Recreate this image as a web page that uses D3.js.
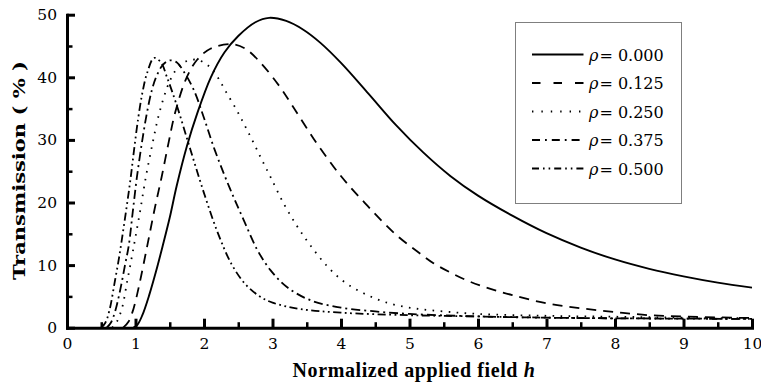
<!DOCTYPE html>
<html>
<head>
<meta charset="utf-8">
<script src="https://d3js.org/d3.v7.min.js"></script>
<style>
  body { margin: 0; background: #fff; }
  svg { display: block; }
  text { font-family: "DejaVu Serif", "Liberation Serif", serif; fill: #000; }
</style>
</head>
<body>
<figure id="chart" style="margin:0"></figure>
<script>
// normalized applied field h and transmission (%) for each rho
const rhoLabels = ["0.000", "0.125", "0.250", "0.375", "0.500"];

const h000 = [0.97, 1.03, 1.1, 1.2, 1.3, 1.4, 1.5, 1.6, 1.75, 1.9, 2.1, 2.3, 2.5, 2.75, 2.95, 3.2, 3.45, 3.7, 4.0, 4.4, 4.8, 5.2, 5.6, 6.0, 6.5, 7.0, 7.5, 8.0, 8.5, 9.0, 9.5, 10.0];
const t000 = [0, 0.5, 2.0, 5.2, 9.0, 13.2, 17.6, 22.6, 29.0, 34.2, 40.0, 44.0, 46.6, 48.8, 49.5, 49.0, 47.6, 45.5, 42.3, 37.4, 32.4, 28.0, 24.2, 21.1, 17.9, 15.1, 12.8, 10.9, 9.4, 8.2, 7.2, 6.4];

const h125 = [0.82, 0.9, 0.97, 1.05, 1.17, 1.28, 1.38, 1.48, 1.58, 1.74, 1.9, 2.1, 2.4, 2.6, 2.82, 3.1, 3.3, 3.6, 3.9, 4.1, 4.35, 4.6, 4.85, 5.1, 5.35, 5.6, 5.85, 6.1, 6.5, 7.0, 7.5, 8.0, 8.5, 9.0, 9.5, 10.0];
const t125 = [0, 1.0, 3.0, 6.6, 13.0, 19.0, 24.0, 29.4, 34.4, 39.8, 42.8, 44.6, 45.3, 44.6, 42.4, 38.6, 35.3, 30.2, 25.6, 22.9, 19.9, 17.0, 14.4, 12.3, 10.3, 8.8, 7.5, 6.5, 5.2, 3.9, 3.1, 2.5, 2.0, 1.8, 1.65, 1.55];

const h250 = [0.66, 0.72, 0.8, 0.88, 0.95, 1.0, 1.07, 1.15, 1.25, 1.35, 1.5, 1.62, 1.75, 1.9, 2.07, 2.2, 2.31, 2.48, 2.6, 2.73, 2.85, 2.97, 3.16, 3.36, 3.55, 3.8, 4.05, 4.33, 4.67, 5.06, 5.5, 6.0, 7.0, 8.0, 9.0, 10.0];
const t250 = [0, 0.8, 3.0, 7.5, 11.5, 14.5, 18.8, 24.0, 29.5, 34.4, 39.4, 41.6, 42.6, 42.8, 41.8, 40.0, 37.9, 34.7, 32.2, 29.4, 26.7, 24.1, 19.9, 16.2, 13.2, 9.8, 7.3, 5.5, 4.0, 3.1, 2.6, 2.2, 1.9, 1.75, 1.6, 1.5];

const h375 = [0.58, 0.64, 0.7, 0.78, 0.85, 0.9, 0.96, 1.02, 1.1, 1.17, 1.24, 1.3, 1.4, 1.5, 1.6, 1.7, 1.85, 2.0, 2.14, 2.29, 2.43, 2.58, 2.78, 2.97, 3.21, 3.55, 4.0, 4.5, 5.0, 6.0, 7.0, 8.0, 9.0, 10.0];
const t375 = [0, 0.8, 2.5, 6.2, 10.2, 13.0, 18.5, 24.0, 30.0, 34.5, 38.0, 40.0, 42.0, 42.7, 42.4, 41.0, 38.0, 33.5, 28.9, 24.6, 20.9, 17.2, 12.4, 9.2, 6.5, 4.4, 3.2, 2.6, 2.2, 1.8, 1.6, 1.5, 1.45, 1.4];

const h500 = [0.5, 0.56, 0.62, 0.7, 0.76, 0.82, 0.88, 0.93, 0.98, 1.04, 1.1, 1.17, 1.27, 1.37, 1.46, 1.6, 1.8, 2.0, 2.2, 2.4, 2.6, 2.8, 3.0, 3.4, 4.0, 5.0, 6.0, 7.0, 8.0, 9.0, 10.0];
const t500 = [0, 0.8, 2.8, 7.5, 11.2, 15.5, 20.0, 24.0, 28.5, 33.5, 37.5, 40.7, 43.1, 42.4, 40.0, 35.6, 28.5, 21.5, 15.2, 10.2, 7.0, 5.1, 4.0, 3.0, 2.4, 2.0, 1.8, 1.6, 1.5, 1.45, 1.4];

const xTicks = [0, 1, 2, 3, 4, 5, 6, 7, 8, 9, 10];
const yTicks = [0, 10, 20, 30, 40, 50];

const width = 761, height = 385;
const margin = { top: 14.7, right: 9, bottom: 57.3, left: 67 };

// line styles: dashes along the curves and in the legend
const series = [
  { label: rhoLabels[0], h: h000, t: t000, dash: null, legendDash: null },
  { label: rhoLabels[1], h: h125, t: t125, dash: "10,7", legendDash: "8.5,13" },
  { label: rhoLabels[2], h: h250, t: t250, dash: "1.6,6.4", legendDash: "1.4,8" },
  { label: rhoLabels[3], h: h375, t: t375, dash: "9,4,2,4", legendDash: "8,5,1.8,5" },
  { label: rhoLabels[4], h: h500, t: t500, dash: "8,3.5,1.8,3.5,1.8,3.5", legendDash: "7,4,1.6,4,1.6,4" }
];

const svg = d3.select("figure#chart")
  .append("svg")
  .attr("width", width)
  .attr("height", height);

const x = d3.scaleLinear().domain([0, 10]).range([margin.left, width - margin.right]);
const y = d3.scaleLinear().domain([0, 50]).range([height - margin.bottom, margin.top]);

// curves
const line = d3.line()
  .x(d => x(d[0]))
  .y(d => y(d[1]))
  .curve(d3.curveCatmullRom.alpha(0.5));

svg.append("g")
  .selectAll("path")
  .data(series)
  .enter()
  .append("path")
  .attr("d", s => line(s.h.map((v, i) => [v, s.t[i]])))
  .attr("fill", "none")
  .attr("stroke", "#000")
  .attr("stroke-width", s => s.dash ? 1.8 : 1.9)
  .attr("stroke-dasharray", s => s.dash);

// minor ticks
const minorX = d3.range(0.5, 10, 1);
const minorY = d3.range(5, 50, 10);

svg.append("g")
  .attr("transform", "translate(0," + y(0) + ")")
  .call(d3.axisBottom(x).tickValues(minorX).tickSize(-5.5).tickFormat(""))
  .call(g => g.select(".domain").remove())
  .call(g => g.selectAll("line").attr("stroke-width", 2.5));

svg.append("g")
  .attr("transform", "translate(" + x(0) + ",0)")
  .call(d3.axisLeft(y).tickValues(minorY).tickSize(-5.5).tickFormat(""))
  .call(g => g.select(".domain").remove())
  .call(g => g.selectAll("line").attr("stroke-width", 2.5));

// major axes
const xAxis = svg.append("g")
  .attr("transform", "translate(0," + y(0) + ")")
  .call(d3.axisBottom(x).tickValues(xTicks).tickSize(-9).tickSizeOuter(0).tickPadding(10.5));

const yAxis = svg.append("g")
  .attr("transform", "translate(" + x(0) + ",0)")
  .call(d3.axisLeft(y).tickValues(yTicks).tickSize(-8).tickSizeOuter(0).tickPadding(10));

[xAxis, yAxis].forEach(g => {
  g.select(".domain").attr("stroke-width", 3).attr("stroke-linecap", "square");
  g.selectAll(".tick line").attr("stroke-width", 3);
  g.selectAll(".tick text")
    .style("font-family", "'DejaVu Serif', serif")
    .style("font-size", "15.5px");
});

// axis titles
const xTitle = svg.append("text")
  .attr("x", 414)
  .attr("y", 376.5)
  .attr("text-anchor", "middle")
  .style("font-family", "'Liberation Serif', serif")
  .style("font-size", "20px")
  .style("letter-spacing", "0.6px")
  .style("font-weight", "bold");
xTitle.append("tspan").text("Normalized applied field ");
xTitle.append("tspan").style("font-style", "italic").text("h");

svg.append("text")
  .attr("transform", "translate(25,170.5) rotate(-90)")
  .attr("text-anchor", "middle")
  .attr("textLength", 219)
  .attr("lengthAdjust", "spacingAndGlyphs")
  .style("font-size", "17.5px")
  .style("font-weight", "bold")
  .text("Transmission ( % )");

// legend
const legend = svg.append("g");

legend.append("rect")
  .attr("x", 515.5)
  .attr("y", 22.5)
  .attr("width", 166)
  .attr("height", 181)
  .attr("fill", "#fff")
  .attr("stroke", "#7f7f7f")
  .attr("stroke-width", 1);

const rows = legend.selectAll("g.row")
  .data(series)
  .enter()
  .append("g")
  .attr("class", "row")
  .attr("transform", (s, i) => "translate(0," + (54.5 + i * 28.5) + ")");

rows.append("line")
  .attr("x1", 532)
  .attr("x2", 583.5)
  .attr("stroke", "#000")
  .attr("stroke-width", 2)
  .attr("stroke-dasharray", s => s.legendDash);

const labels = rows.append("text")
  .attr("x", 589)
  .attr("y", 6.3)
  .style("font-size", "16px");
labels.append("tspan").style("font-style", "italic").text("\u03c1");
labels.append("tspan").attr("dx", 1).text(s => "= " + s.label);
</script>
</body>
</html>
